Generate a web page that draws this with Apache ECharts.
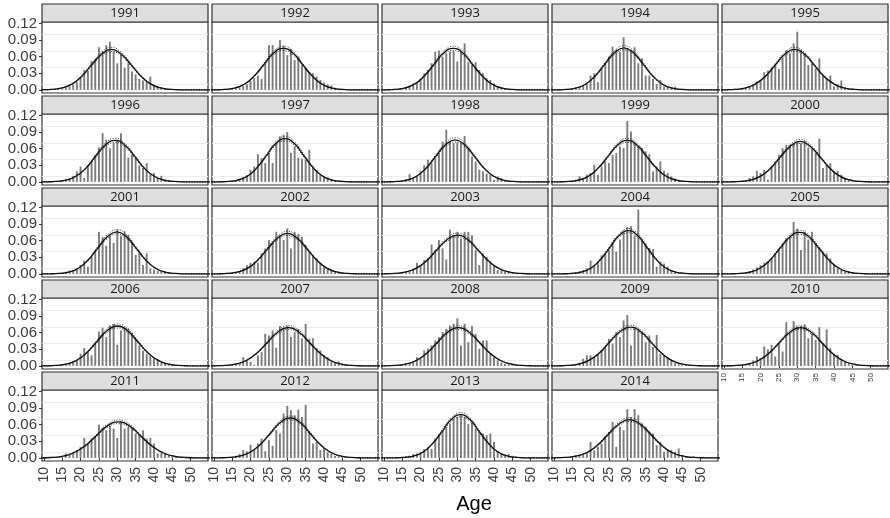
<!DOCTYPE html>
<html><head><meta charset="utf-8">
<script src="https://cdn.jsdelivr.net/npm/echarts@6/dist/echarts.min.js"></script>
<style>html,body{margin:0;padding:0;background:#fff}#c{width:890px;height:518px}</style>
</head><body><div id="c"></div><script>
const years = [1991,1992,1993,1994,1995,1996,1997,1998,1999,2000,2001,2002,2003,2004,2005,2006,2007,2008,2009,2010,2011,2012,2013,2014];
const ageTicks = [10,15,20,25,30,35,40,45,50];
const densityTicks = [0,0.03,0.06,0.09,0.12];
const minorGridValues = [0.015,0.045,0.075,0.105];
const barAges = [14,15,16,17,18,19,20,21,22,23,24,25,26,27,28,29,30,31,32,33,34,35,36,37,38,39,40,41,42,43,44,45,46,47,48,49,50];

const bars1991 = [.001,.002,.004,.006,.010,.014,.022,.036,.034,.052,.055,.077,.070,.081,.087,.069,.048,.063,.040,.048,.033,.028,.020,.017,.014,.024,.007,.005,.004,.003,.002,.001,.001,.001,0,0,0];
const bars1992 = [.001,.002,.003,.005,.007,.010,.016,.022,.026,.020,.048,.081,.081,.072,.090,.080,.063,.074,.054,.060,.045,.040,.032,.030,.024,.018,.013,.010,.008,.004,.002,.002,.001,.001,.001,0,0];
const bars1993 = [.001,.002,.004,.008,.012,.014,.020,.030,.036,.048,.069,.071,.060,.066,.069,.070,.051,.068,.084,.050,.046,.050,.036,.030,.021,.018,.012,.007,.004,.003,.002,.001,.001,.001,0,0,0];
const bars1994 = [.001,.002,.003,.005,.008,.011,.026,.030,.014,.039,.048,.060,.078,.073,.069,.095,.075,.072,.077,.048,.057,.026,.026,.020,.011,.018,.006,.005,.004,.006,.002,.002,.001,.001,.001,0,0];
const bars1995 = [.001,.002,.003,.006,.010,.015,.017,.032,.035,.040,.046,.038,.058,.072,.066,.084,.105,.072,.066,.045,.048,.039,.057,.026,.020,.026,.006,.010,.017,.004,.002,.003,.001,.001,0,0,0];
const bars1996 = [.001,.002,.003,.006,.011,.019,.028,.007,.030,.037,.049,.062,.088,.076,.061,.070,.076,.088,.067,.044,.049,.043,.030,.025,.034,.013,.016,.007,.011,.004,.003,.002,.001,.001,0,0,0];
const bars1997 = [.001,.002,.003,.005,.009,.012,.022,.028,.050,.043,.034,.052,.034,.070,.082,.085,.090,.052,.064,.044,.042,.040,.058,.028,.022,.013,.010,.008,.005,.003,.002,.002,.001,.001,0,0,0];
const bars1998 = [.001,.002,.005,.014,.007,.010,.020,.030,.040,.034,.043,.052,.073,.094,.073,.070,.071,.070,.083,.061,.046,.037,.022,.019,.015,.013,.004,.010,.007,.003,.002,.001,.001,.001,0,0,0];
const bars1999 = [.001,.002,.004,.010,.007,.013,.016,.031,.013,.028,.037,.034,.049,.052,.064,.061,.110,.091,.070,.064,.061,.055,.050,.019,.028,.037,.020,.016,.010,.006,.004,.002,.001,.001,0,0,0];
const bars2000 = [.001,.002,.003,.007,.010,.020,.016,.022,.004,.028,.037,.049,.061,.067,.067,.070,.073,.070,.074,.062,.060,.052,.078,.025,.031,.034,.019,.020,.013,.007,.004,.002,.001,.001,0,0,0];
const bars2001 = [.001,.002,.004,.006,.007,.010,.016,.024,.013,.031,.043,.076,.067,.051,.069,.056,.080,.069,.077,.071,.058,.034,.037,.016,.037,.010,.008,.005,.004,.003,.002,.001,.001,.001,0,0,0];
const bars2002 = [.001,.002,.003,.005,.010,.016,.020,.022,.020,.037,.046,.061,.056,.076,.070,.061,.082,.046,.076,.072,.067,.052,.040,.034,.028,.020,.014,.010,.007,.004,.003,.002,.001,.001,0,0,0];
const bars2003 = [.001,.002,.003,.004,.007,.020,.016,.025,.028,.053,.043,.061,.046,.026,.080,.070,.076,.064,.076,.076,.070,.043,.016,.037,.031,.022,.016,.007,.006,.004,.003,.002,.001,.001,.002,0,0];
const bars2004 = [.001,.002,.003,.005,.007,.010,.024,.016,.022,.033,.037,.043,.058,.040,.062,.075,.085,.086,.069,.116,.060,.055,.047,.045,.013,.022,.019,.013,.007,.004,.002,.002,.001,.001,0,0,0];
const bars2005 = [.001,.002,.003,.005,.008,.012,.016,.020,.022,.028,.038,.046,.055,.064,.067,.094,.082,.043,.076,.062,.076,.055,.048,.040,.037,.028,.016,.010,.007,.004,.003,.002,.001,.001,0,0,0];
const bars2006 = [.001,.002,.003,.005,.008,.011,.022,.032,.025,.019,.040,.062,.069,.052,.073,.076,.038,.064,.070,.068,.060,.049,.037,.028,.022,.019,.014,.012,.006,.004,.003,.002,.001,.001,0,0,0];
const bars2007 = [.001,.002,.003,.005,.016,.010,.007,.002,.019,.025,.058,.055,.064,.033,.072,.067,.073,.052,.061,.067,.050,.076,.049,.050,.032,.028,.020,.016,.008,.007,.008,.003,.002,.001,.001,0,0];
const bars2008 = [.001,.002,.003,.005,.007,.016,.013,.028,.031,.037,.046,.052,.061,.067,.073,.076,.086,.037,.076,.043,.072,.058,.031,.046,.046,.022,.016,.010,.006,.004,.003,.002,.001,.001,0,0,0];
const bars2009 = [.001,.002,.003,.006,.013,.019,.019,.016,.022,.028,.034,.049,.040,.061,.052,.082,.092,.037,.070,.067,.061,.043,.055,.034,.056,.022,.019,.016,.010,.005,.003,.002,.001,.001,0,0,0];
const bars2010 = [.001,.002,.003,.005,.010,.017,.014,.035,.030,.038,.017,.041,.026,.079,.059,.081,.071,.072,.075,.050,.058,.047,.070,.041,.066,.032,.022,.020,.012,.008,.004,.002,.001,.001,0,0,0];
const bars2011 = [.001,.003,.008,.008,.011,.014,.020,.036,.026,.035,.038,.060,.054,.050,.058,.053,.036,.066,.053,.056,.053,.044,.042,.050,.035,.036,.026,.008,.010,.008,.004,.002,.002,.001,.002,.001,0];
const bars2012 = [.001,.002,.004,.007,.014,.012,.024,.016,.026,.035,.012,.032,.022,.050,.044,.080,.094,.086,.077,.087,.074,.096,.047,.026,.029,.014,.018,.010,.007,.004,.003,.002,.001,.001,0,0,0];
const bars2013 = [.001,.002,.003,.004,.007,.008,.011,.016,.020,.016,.035,.043,.050,.056,.062,.070,.074,.077,.074,.061,.064,.053,.047,.044,.041,.044,.029,.011,.008,.005,.007,.004,.002,.001,.001,0,0];
const bars2014 = [.001,.002,.004,.006,.008,.010,.029,.014,.020,.026,.038,.047,.065,.020,.056,.050,.088,.074,.088,.077,.062,.056,.047,.044,.023,.029,.011,.014,.014,.011,.017,.005,.002,.001,.003,0,0];

// fitted normal curve: ages of the sampled points per year
const fitAges1991 = [8,9.3,12.0,14.7,17.5,20.2,22.9,25.7,28.4,31.1,33.9,36.6,39.3,42.1,44.8,47.5,56];
const fitAges1992 = [8,10.3,12.9,15.6,18.3,20.9,23.6,26.2,28.9,31.6,34.2,36.9,39.5,42.2,44.9,47.5,56];
const fitAges1993 = [8,10.3,12.9,15.6,18.3,20.9,23.6,26.2,28.9,31.6,34.2,36.9,39.5,42.2,44.9,47.5,56];
const fitAges1994 = [8,10.7,13.3,16.0,18.6,21.2,23.8,26.5,29.1,31.7,34.4,37.0,39.6,42.2,44.9,47.5,56];
const fitAges1995 = [8,10.3,13.0,15.7,18.4,21.2,23.9,26.6,29.3,32.0,34.7,37.4,40.2,42.9,45.6,48.3,56];
const fitAges1996 = [8,10.7,13.3,16.0,18.7,21.4,24.0,26.7,29.4,32.1,34.8,37.4,40.1,42.8,45.5,48.1,56];
const fitAges1997 = [8,11.5,14.1,16.6,19.2,21.7,24.3,26.8,29.4,32.0,34.5,37.1,39.6,42.2,44.7,47.3,56];
const fitAges1998 = [8,11.0,13.6,16.3,18.9,21.5,24.1,26.8,29.4,32.0,34.7,37.3,39.9,42.5,45.2,47.8,56];
const fitAges1999 = [8,11.4,14.0,16.7,19.4,22.0,24.7,27.3,30.0,32.7,35.3,38.0,40.6,43.3,46.0,48.6,56];
const fitAges2000 = [8,11.7,14.4,17.1,19.9,22.6,25.3,28.1,30.8,33.5,36.3,39.0,41.7,44.5,47.2,49.9,56];
const fitAges2001 = [8,11.5,14.1,16.8,19.4,22.0,24.6,27.3,29.9,32.5,35.2,37.8,40.4,43.0,45.7,48.3,56];
const fitAges2002 = [8,10.9,13.6,16.3,19.1,21.8,24.5,27.3,30.0,32.7,35.5,38.2,40.9,43.7,46.4,49.1,56];
const fitAges2003 = [8,10.0,12.9,15.7,18.6,21.5,24.3,27.2,30.0,32.9,35.7,38.6,41.4,44.3,47.1,50.0,56];
const fitAges2004 = [8,12.4,15.0,17.5,20.1,22.6,25.2,27.7,30.3,32.9,35.4,38.0,40.5,43.1,45.6,48.2,56];
const fitAges2005 = [8,11.7,14.4,17.1,19.8,22.5,25.2,27.9,30.6,33.3,36.0,38.7,41.4,44.1,46.8,49.5,56];
const fitAges2006 = [8,10.4,13.2,16.0,18.8,21.6,24.4,27.2,30.0,32.8,35.6,38.4,41.2,44.0,46.8,49.6,56];
const fitAges2007 = [8,10.1,13.0,15.8,18.7,21.6,24.5,27.4,30.3,33.2,36.1,39.0,41.9,44.8,47.6,50.5,56];
const fitAges2008 = [8,10.1,13.0,15.8,18.7,21.6,24.5,27.4,30.3,33.2,36.1,39.0,41.9,44.8,47.6,50.5,56];
const fitAges2009 = [8,10.9,13.7,16.6,19.4,22.3,25.1,28.0,30.8,33.7,36.5,39.4,42.2,45.1,47.9,50.8,56];
const fitAges2010 = [8,10.7,13.6,16.4,19.3,22.2,25.1,28.0,30.9,33.8,36.7,39.6,42.5,45.4,48.2,51.1,56];
const fitAges2011 = [7,8.8,11.9,15.0,18.0,21.1,24.2,27.2,30.3,33.4,36.4,39.5,42.6,45.7,48.7,51.8,56];
const fitAges2012 = [8,11.4,14.2,16.9,19.7,22.5,25.3,28.0,30.8,33.6,36.3,39.1,41.9,44.7,47.4,50.2,56];
const fitAges2013 = [8,13.0,15.6,18.1,20.7,23.2,25.8,28.3,30.9,33.5,36.0,38.6,41.1,43.7,46.2,48.8,56];
const fitAges2014 = [8,10.0,13.0,15.9,18.9,21.8,24.7,27.7,30.6,33.5,36.5,39.4,42.3,45.3,48.2,51.2,56];

// fitted density values (solid) and dotted band, by curve height class
const fitMid650 = [0,.0001,.0007,.0029,.0088,.0211,.0394,.0574,.0650,.0574,.0394,.0211,.0088,.0029,.0007,.0001,0];
const fitHi650  = [0,.0001,.0007,.0030,.0092,.0222,.0414,.0603,.0683,.0603,.0414,.0222,.0092,.0030,.0007,.0001,0];
const fitLo650  = [0,.0001,.0007,.0028,.0084,.0200,.0374,.0545,.0618,.0545,.0374,.0200,.0084,.0028,.0007,.0001,0];
const fitMid690 = [0,.0002,.0008,.0030,.0093,.0224,.0418,.0609,.0690,.0609,.0418,.0224,.0093,.0030,.0008,.0002,0];
const fitHi690  = [0,.0002,.0008,.0032,.0098,.0235,.0439,.0639,.0725,.0639,.0439,.0235,.0098,.0032,.0008,.0002,0];
const fitLo690  = [0,.0002,.0008,.0029,.0088,.0213,.0397,.0579,.0656,.0579,.0397,.0213,.0088,.0029,.0008,.0002,0];
const fitMid700 = [0,.0002,.0008,.0031,.0095,.0227,.0425,.0618,.0700,.0618,.0425,.0227,.0095,.0031,.0008,.0002,0];
const fitHi700  = [0,.0002,.0008,.0033,.0100,.0238,.0446,.0649,.0735,.0649,.0446,.0238,.0100,.0033,.0008,.0002,0];
const fitLo700  = [0,.0002,.0008,.0029,.0090,.0216,.0404,.0587,.0665,.0587,.0404,.0216,.0090,.0029,.0008,.0002,0];
const fitMid720 = [0,.0002,.0008,.0032,.0097,.0234,.0437,.0635,.0720,.0635,.0437,.0234,.0097,.0032,.0008,.0002,0];
const fitHi720  = [0,.0002,.0008,.0034,.0102,.0246,.0459,.0667,.0756,.0667,.0459,.0246,.0102,.0034,.0008,.0002,0];
const fitLo720  = [0,.0002,.0008,.0030,.0092,.0222,.0415,.0603,.0684,.0603,.0415,.0222,.0092,.0030,.0008,.0002,0];
const fitMid730 = [0,.0002,.0008,.0032,.0099,.0237,.0443,.0644,.0730,.0644,.0443,.0237,.0099,.0032,.0008,.0002,0];
const fitHi730  = [0,.0002,.0008,.0034,.0104,.0249,.0465,.0676,.0767,.0676,.0465,.0249,.0104,.0034,.0008,.0002,0];
const fitLo730  = [0,.0002,.0008,.0030,.0094,.0225,.0421,.0612,.0694,.0612,.0421,.0225,.0094,.0030,.0008,.0002,0];
const fitMid750 = [0,.0002,.0008,.0033,.0101,.0244,.0455,.0662,.0750,.0662,.0455,.0244,.0101,.0033,.0008,.0002,0];
const fitHi750  = [0,.0002,.0008,.0035,.0106,.0256,.0478,.0695,.0788,.0695,.0478,.0256,.0106,.0035,.0008,.0002,0];
const fitLo750  = [0,.0002,.0008,.0031,.0096,.0232,.0432,.0629,.0713,.0629,.0432,.0232,.0096,.0031,.0008,.0002,0];
const fitMid760 = [0,.0002,.0008,.0033,.0103,.0247,.0461,.0671,.0760,.0671,.0461,.0247,.0103,.0033,.0008,.0002,0];
const fitHi760  = [0,.0002,.0008,.0035,.0108,.0259,.0484,.0705,.0798,.0705,.0484,.0259,.0108,.0035,.0008,.0002,0];
const fitLo760  = [0,.0002,.0008,.0031,.0098,.0235,.0438,.0637,.0722,.0637,.0438,.0235,.0098,.0031,.0008,.0002,0];
const fitMid780 = [0,.0002,.0009,.0034,.0106,.0253,.0473,.0688,.0780,.0688,.0473,.0253,.0106,.0034,.0009,.0002,0];
const fitHi780  = [0,.0002,.0009,.0036,.0111,.0266,.0497,.0722,.0819,.0722,.0497,.0266,.0111,.0036,.0009,.0002,0];
const fitLo780  = [0,.0002,.0009,.0032,.0101,.0240,.0449,.0654,.0741,.0654,.0449,.0240,.0101,.0032,.0009,.0002,0];

const fitClassOfYear = ['730','750','750','760','730','750','780','760','750','730','760','730','700','780','750','720','690','690','700','690','650','720','780','690'];

const barsByYear = {1991:bars1991,1992:bars1992,1993:bars1993,1994:bars1994,1995:bars1995,1996:bars1996,1997:bars1997,1998:bars1998,1999:bars1999,2000:bars2000,2001:bars2001,2002:bars2002,2003:bars2003,2004:bars2004,2005:bars2005,2006:bars2006,2007:bars2007,2008:bars2008,2009:bars2009,2010:bars2010,2011:bars2011,2012:bars2012,2013:bars2013,2014:bars2014};
const fitAgesByYear = {1991:fitAges1991,1992:fitAges1992,1993:fitAges1993,1994:fitAges1994,1995:fitAges1995,1996:fitAges1996,1997:fitAges1997,1998:fitAges1998,1999:fitAges1999,2000:fitAges2000,2001:fitAges2001,2002:fitAges2002,2003:fitAges2003,2004:fitAges2004,2005:fitAges2005,2006:fitAges2006,2007:fitAges2007,2008:fitAges2008,2009:fitAges2009,2010:fitAges2010,2011:fitAges2011,2012:fitAges2012,2013:fitAges2013,2014:fitAges2014};
const fitMidByClass = {'650':fitMid650,'690':fitMid690,'700':fitMid700,'720':fitMid720,'730':fitMid730,'750':fitMid750,'760':fitMid760,'780':fitMid780};
const fitHiByClass  = {'650':fitHi650,'690':fitHi690,'700':fitHi700,'720':fitHi720,'730':fitHi730,'750':fitHi750,'760':fitHi760,'780':fitHi780};
const fitLoByClass  = {'650':fitLo650,'690':fitLo690,'700':fitLo700,'720':fitLo720,'730':fitLo730,'750':fitLo750,'760':fitLo760,'780':fitLo780};

// layout
const PANEL_W = 166, PANEL_H = 71, COL_PITCH = 170, ROW_PITCH = 92, LEFT0 = 42, TOP0 = 22, STRIP_H = 18;

const chart = echarts.init(document.getElementById('c'));
const grids = [], xAxes = [], yAxes = [], series = [], graphics = [];

years.forEach((yr, i) => {
  const col = i % 5, row = Math.floor(i / 5);
  const left = LEFT0 + col * COL_PITCH, top = TOP0 + row * ROW_PITCH;
  const small = yr === 2010;
  const showX = row === 4 || small;
  const showY = col === 0;
  grids.push({left: left, top: top, width: PANEL_W, height: PANEL_H, show: true, borderColor: '#333', borderWidth: 1.2, backgroundColor: '#fff', containLabel: false});
  xAxes.push({
    gridIndex: i, type: 'value', min: 9.5, max: 54.7,
    axisLine: {show: false}, splitLine: {show: false},
    axisTick: {show: showX, customValues: ageTicks, length: small ? 2 : 3, lineStyle: {color: '#333', width: 1}},
    axisLabel: {show: showX, customValues: ageTicks, rotate: 90, margin: small ? 4 : 6,
      fontSize: small ? 8 : 14, fontFamily: 'Liberation Sans', color: '#3d3d3d', formatter: v => String(v)}
  });
  yAxes.push({
    gridIndex: i, type: 'value', min: -0.0056, max: 0.1226,
    axisLine: {show: false}, splitLine: {show: false},
    axisTick: {show: showY, customValues: densityTicks, length: 3, lineStyle: {color: '#333', width: 1}},
    axisLabel: {show: showY, customValues: densityTicks, margin: 5, fontSize: 15, fontFamily: 'Liberation Sans', color: '#3d3d3d', formatter: v => v.toFixed(2)}
  });
  const bars = barsByYear[yr];
  series.push({
    type: 'bar', xAxisIndex: i, yAxisIndex: i, barWidth: 1.9, silent: true, z: 2,
    itemStyle: {color: '#7c7c7c'},
    data: barAges.map((a, k) => [a, bars[k]]),
    markLine: {silent: true, z: 1, symbol: ['none', 'none'], label: {show: false}, animation: false,
      lineStyle: {color: '#ebebeb', width: 1, type: 'solid'},
      emphasis: {disabled: true},
      data: minorGridValues.map(v => ({yAxis: v}))}
  });
  const ages = fitAgesByYear[yr];
  const cls = fitClassOfYear[i];
  const mkLine = (vals, style, z) => ({
    type: 'line', xAxisIndex: i, yAxisIndex: i, silent: true, showSymbol: false, smooth: 0.5, z: z,
    lineStyle: style, data: ages.map((a, k) => [a, vals[k]])
  });
  series.push(mkLine(fitHiByClass[cls], {color: '#222', width: 0.9, type: [1, 1.6]}, 3));
  series.push(mkLine(fitLoByClass[cls], {color: '#222', width: 0.9, type: [1, 1.6]}, 3));
  series.push(mkLine(fitMidByClass[cls], {color: '#111', width: 1.3, type: 'solid'}, 4));
  const stripTop = top - STRIP_H;
  graphics.push({type: 'rect', shape: {x: left, y: stripTop, width: PANEL_W, height: STRIP_H}, style: {fill: '#dedede', stroke: '#333', lineWidth: 1.2}, z: 10, silent: true});
  graphics.push({type: 'text', x: left + PANEL_W / 2, y: stripTop + STRIP_H / 2 + 0.5, silent: true, z: 11,
    style: {text: String(yr), fill: '#1a1a1a', font: '13px "Open Sans"', align: 'center', verticalAlign: 'middle', textAlign: 'center', textVerticalAlign: 'middle'}});
});

graphics.push({type: 'text', x: 474, y: 504, silent: true, z: 11,
  style: {text: 'Age', fill: '#000', font: '20px "Liberation Sans"', align: 'center', verticalAlign: 'middle', textAlign: 'center', textVerticalAlign: 'middle'}});

chart.setOption({
  animation: false,
  grid: grids, xAxis: xAxes, yAxis: yAxes, series: series,
  graphic: {elements: graphics}
});
</script></body></html>
